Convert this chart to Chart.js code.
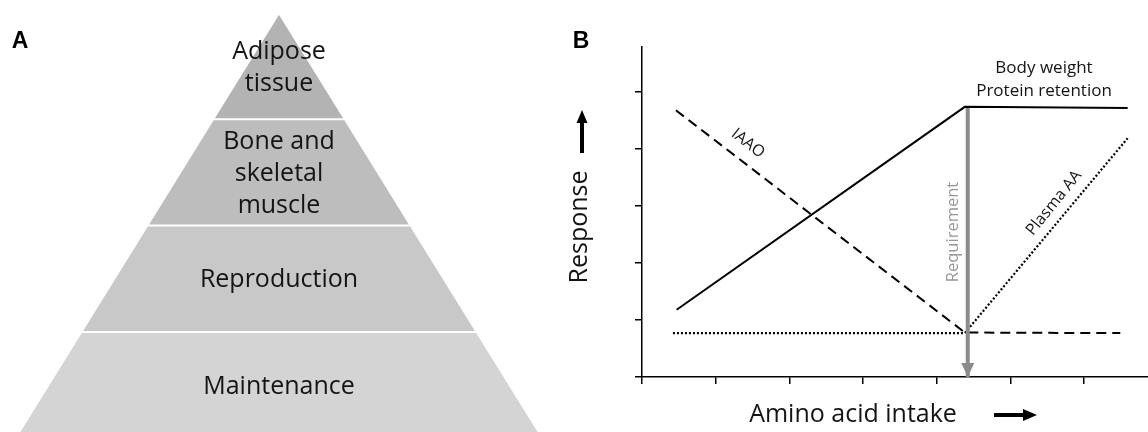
<!DOCTYPE html>
<html>
<head>
<meta charset="utf-8">
<script src="https://cdn.jsdelivr.net/npm/chart.js@4.4.1/dist/chart.umd.min.js"></script>
<style>
  html, body { margin: 0; padding: 0; background: #fff; }
  #wrap { position: relative; width: 1148px; height: 432px; overflow: hidden; }
  #pyramid { position: absolute; left: 0; top: 0; }
  #response { position: absolute; left: 560px; top: 0; }
</style>
</head>
<body>
<div id="wrap">
  <canvas id="pyramid" width="560" height="432"></canvas>
  <canvas id="response" width="588" height="432"></canvas>
</div>
<script>
// Panel A - pyramid layers, bottom to top
const LAYER_NAMES = [["Maintenance"], ["Reproduction"], ["Bone and", "skeletal", "muscle"], ["Adipose", "tissue"]];
const LAYER_LEVELS = [0, 1, 2, 3, 4];
const LAYER_COLORS = ["#d4d4d4", "#c8c8c8", "#bdbdbd", "#b3b3b3"];
const PYR_SLOPE = 0.62;

// Panel B - response curves (x = amino acid intake, y = response)
const BW_X = [0.47, 4.38, 6.59];
const BW_Y = [1.18, 4.74, 4.72];
const IAAO_X = [0.46, 4.38, 6.49];
const IAAO_Y = [4.68, 0.78, 0.77];
const PLASMA_X = [0.42, 4.38, 6.59];
const PLASMA_Y = [0.77, 0.77, 4.19];
const REQ_X = [4.42, 4.42];
const REQ_Y = [4.74, 0];
const X_TICKS = [0, 1, 2, 3, 4, 5, 6];
const Y_TICKS = [0, 1, 2, 3, 4, 5];

const FONT = "'Open Sans', 'Noto Sans', sans-serif";
const LETTER_FONT = "bold 23px 'Liberation Sans', Arial, sans-serif";
const INK = "#141414";
const GREY = "#8b8b8b";

function pts(xs, ys) {
    return xs.map((x, i) => ({x: x, y: ys[i]}));
}

function halfWidth(level) {
    return PYR_SLOPE * (LAYER_LEVELS[LAYER_LEVELS.length - 1] - level);
}

// ---------- panel A ----------
const pyramidLabels = {
    id: "pyramidLabels",
    afterDatasetsDraw(chart) {
        const {ctx, scales: {x, y}} = chart;
        ctx.save();
        ctx.font = `25px ${FONT}`;
        ctx.fillStyle = INK;
        ctx.textAlign = "center";
        ctx.textBaseline = "alphabetic";
        LAYER_NAMES.forEach((lines, i) => {
            const cy = y.getPixelForValue((LAYER_LEVELS[i] + LAYER_LEVELS[i + 1]) / 2);
            lines.forEach((t, j) => {
                ctx.fillText(t, x.getPixelForValue(0), cy + 8.7 + (j - (lines.length - 1) / 2) * 32);
            });
        });
        ctx.font = LETTER_FONT;
        ctx.fillStyle = "#000";
        ctx.fillText("A", 20, 48);
        ctx.restore();
    }
};

const layerSets = LAYER_NAMES.map((name, i) => {
    const lo = LAYER_LEVELS[i], hi = LAYER_LEVELS[i + 1];
    return {
        label: name.join(" "),
        data: [
            {x: -halfWidth(lo), y: lo}, {x: -halfWidth(hi), y: hi},
            {x: halfWidth(hi), y: hi}, {x: halfWidth(lo), y: lo}
        ],
        fill: "shape",
        backgroundColor: LAYER_COLORS[i],
        borderColor: "#ffffff",
        borderWidth: 2,
        pointRadius: 0,
        tension: 0
    };
});

new Chart(document.getElementById("pyramid"), {
    type: "line",
    data: {datasets: layerSets},
    options: {
        responsive: false,
        animation: false,
        layout: {padding: 0},
        scales: {
            x: {type: "linear", display: false, min: -2.6246, max: 2.6435},
            y: {type: "linear", display: false, min: 0.0583, max: 4.1223}
        },
        plugins: {
            legend: {display: false},
            tooltip: {enabled: false},
            filler: {drawTime: "beforeDatasetsDraw"}
        }
    },
    plugins: [pyramidLabels]
});

// ---------- panel B ----------
function arrow(ctx, x1, y1, x2, y2, head, half, width, color) {
    const a = Math.atan2(y2 - y1, x2 - x1);
    const bx = x2 - Math.cos(a) * head, by = y2 - Math.sin(a) * head;
    ctx.save();
    ctx.strokeStyle = color;
    ctx.fillStyle = color;
    ctx.lineWidth = width;
    ctx.beginPath();
    ctx.moveTo(x1, y1);
    ctx.lineTo(bx + Math.cos(a), by + Math.sin(a));
    ctx.stroke();
    ctx.beginPath();
    ctx.moveTo(x2, y2);
    ctx.lineTo(bx - Math.sin(a) * half, by + Math.cos(a) * half);
    ctx.lineTo(bx + Math.sin(a) * half, by - Math.cos(a) * half);
    ctx.closePath();
    ctx.fill();
    ctx.restore();
}

function rotText(ctx, text, x, y, deg, font, color, baseline) {
    ctx.save();
    ctx.translate(x, y);
    ctx.rotate(deg * Math.PI / 180);
    ctx.font = font;
    ctx.fillStyle = color;
    ctx.textAlign = "center";
    ctx.textBaseline = baseline || "alphabetic";
    ctx.fillText(text, 0, 0);
    ctx.restore();
}

const responseNotes = {
    id: "responseNotes",
    afterDatasetsDraw(chart) {
        const {ctx, scales: {x, y}} = chart;
        // head of the requirement arrow, tip on the x axis
        const px = x.getPixelForValue(REQ_X[1]);
        const tip = y.getPixelForValue(REQ_Y[1]);
        ctx.save();
        ctx.fillStyle = GREY;
        ctx.beginPath();
        ctx.moveTo(px, tip);
        ctx.lineTo(px - 6.5, tip - 14);
        ctx.lineTo(px + 6.5, tip - 14);
        ctx.closePath();
        ctx.fill();
        ctx.restore();

        ctx.save();
        ctx.font = LETTER_FONT;
        ctx.fillStyle = "#000";
        ctx.textAlign = "center";
        ctx.fillText("B", 21, 48);
        ctx.restore();

        rotText(ctx, "Response", 27, 227, -90, `25px ${FONT}`, INK);
        arrow(ctx, 22, 153, 22, 110, 13, 5.5, 4, "#000");
        rotText(ctx, "Amino acid intake", 293, 422, 0, `25px ${FONT}`, INK);
        arrow(ctx, 434, 415, 477, 415, 14, 6, 4, "#000");

        rotText(ctx, "Body weight", 484, 73, 0, `17px ${FONT}`, INK);
        rotText(ctx, "Protein retention", 484, 96, 0, `17px ${FONT}`, INK);
        rotText(ctx, "IAAO", 188, 143.3, 38, `16px ${FONT}`, INK, "middle");
        rotText(ctx, "Plasma AA", 494, 203, -51, `16px ${FONT}`, INK, "middle");
        rotText(ctx, "Requirement", 397.5, 232, -90, `16.5px ${FONT}`, "#979797");
    }
};

const axisStyle = {
    type: "linear",
    min: 0,
    border: {display: true, color: "#000", width: 1.5},
    grid: {drawOnChartArea: false, drawTicks: true, tickLength: 7, color: "#000", lineWidth: 1.5},
    ticks: {display: false, includeBounds: false}
};

new Chart(document.getElementById("response"), {
    type: "line",
    data: {
        datasets: [
            {label: "Body weight / Protein retention", data: pts(BW_X, BW_Y),
             borderColor: "#000", borderWidth: 2, pointRadius: 0, fill: false},
            {label: "Requirement", data: pts(REQ_X, REQ_Y),
             borderColor: GREY, borderWidth: 4, pointRadius: 0, fill: false, borderCapStyle: "butt"},
            {label: "IAAO", data: pts(IAAO_X, IAAO_Y),
             borderColor: "#000", borderWidth: 2, borderDash: [10, 6], pointRadius: 0, fill: false},
            {label: "Plasma AA", data: pts(PLASMA_X, PLASMA_Y),
             borderColor: "#000", borderWidth: 2.2, borderDash: [2, 2], pointRadius: 0, fill: false}
        ]
    },
    options: {
        responsive: false,
        animation: false,
        layout: {padding: {left: 0, top: 47, right: 0, bottom: 45}},
        scales: {
            x: Object.assign({}, axisStyle, {
                max: 6.866,
                afterBuildTicks: s => { s.ticks = X_TICKS.map(v => ({value: v})); },
                afterFit: s => { s.height = 10; }
            }),
            y: Object.assign({}, axisStyle, {
                max: 5.79,
                afterBuildTicks: s => { s.ticks = Y_TICKS.map(v => ({value: v})); },
                afterFit: s => { s.width = 82; }
            })
        },
        plugins: {
            legend: {display: false},
            tooltip: {enabled: false}
        }
    },
    plugins: [responseNotes]
});
</script>
</body>
</html>
